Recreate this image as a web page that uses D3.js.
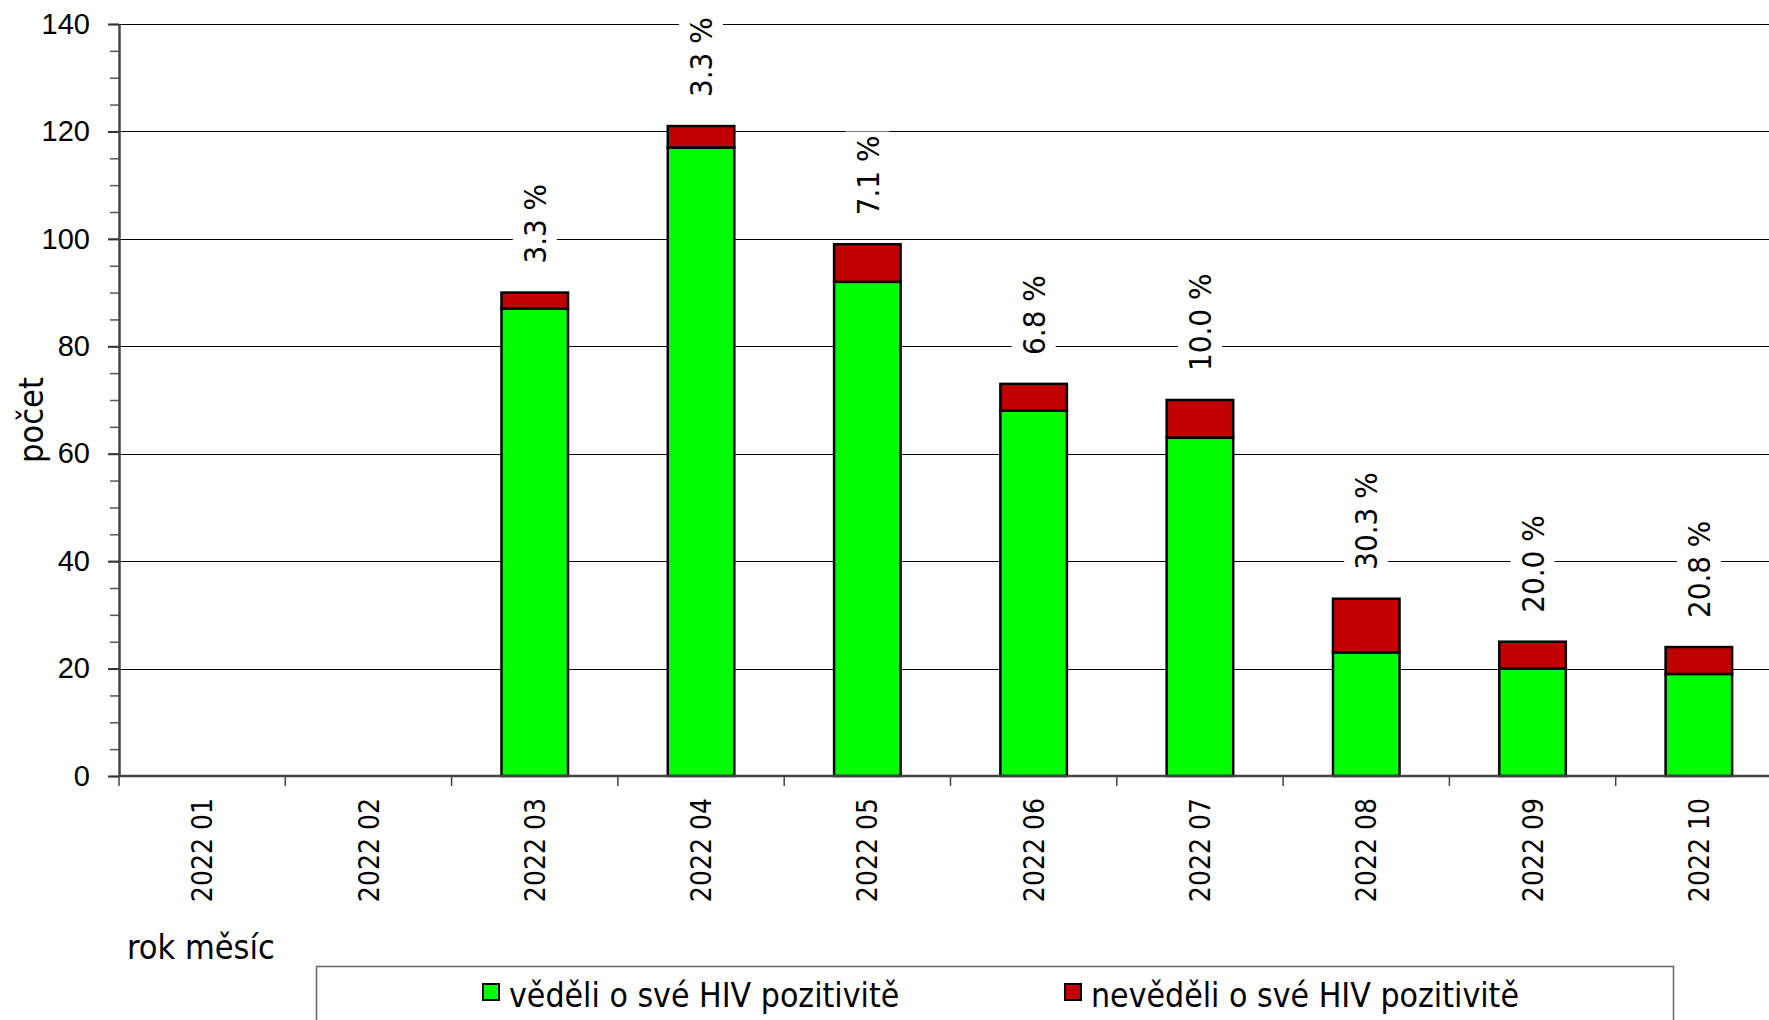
<!DOCTYPE html>
<html>
<head>
<meta charset="utf-8">
<script src="https://cdn.jsdelivr.net/npm/d3@7"></script>
<style>
  body { margin: 0; background: #fff; }
  svg { display: block; font-family: Tahoma, "DejaVu Sans Condensed", "DejaVu Sans", sans-serif; }
  .tick text { font-size: 29px; fill: #000; }
</style>
</head>
<body>
<div class="chart"></div>
<script>
// stacked bars: knew / did not know about their HIV positivity, by month

var months = ["2022 01", "2022 02", "2022 03", "2022 04", "2022 05",
              "2022 06", "2022 07", "2022 08", "2022 09", "2022 10"];
var knew = [0, 0, 87, 117, 92, 68, 63, 23, 20, 19];
var didNotKnow = [0, 0, 3, 4, 7, 5, 7, 10, 5, 5];
var yTicks = [0, 20, 40, 60, 80, 100, 120, 140];
var seriesNames = ["věděli o své HIV pozitivitě", "nevěděli o své HIV pozitivitě"];
var seriesColors = ["#00ff00", "#c00000"];

var svgWidth = 1769;
var svgHeight = 1020;

// plot area (right edge runs past the picture, like the original)
var margin = { top: 24, left: 119 };
var plotRight = 1782;
var plotBottom = 776;

var svg = d3.select(".chart")
    .append("svg")
    .attr("width", svgWidth)
    .attr("height", svgHeight);

var data = months.map(function(m, i) {
    return { month: m, knew: knew[i], didNotKnow: didNotKnow[i], total: knew[i] + didNotKnow[i] };
});

var x = d3.scaleBand()
    .domain(months)
    .range([margin.left, plotRight])
    .paddingInner(0.6)
    .paddingOuter(0.3);

var y = d3.scaleLinear()
    .domain([0, 140])
    .range([plotBottom, margin.top]);

// gridlines
svg.append("g")
    .selectAll("line")
    .data(yTicks.slice(1))
    .enter().append("line")
    .attr("x1", margin.left)
    .attr("x2", svgWidth)
    .attr("y1", function(d) { return Math.round(y(d)) + 0.5; })
    .attr("y2", function(d) { return Math.round(y(d)) + 0.5; })
    .attr("stroke", "#000")
    .attr("stroke-width", 1);

// stacked bars
var stack = d3.stack().keys(["knew", "didNotKnow"]);
var layers = stack(data);

svg.append("g")
    .selectAll("g")
    .data(layers)
    .enter().append("g")
    .attr("fill", function(d, i) { return seriesColors[i]; })
    .selectAll("rect")
    .data(function(d) { return d.filter(function(p) { return p[1] > p[0]; }); })
    .enter().append("rect")
    .attr("x", function(d) { return x(d.data.month); })
    .attr("y", function(d) { return y(d[1]); })
    .attr("width", x.bandwidth())
    .attr("height", function(d) { return y(d[0]) - y(d[1]); })
    .attr("stroke", "#000")
    .attr("stroke-width", 2.5);

// percentage labels above bars, white box behind them
var labelGroup = svg.append("g");
data.filter(function(d) { return d.total > 0; }).forEach(function(d) {
    var pct = (d.didNotKnow / d.total * 100).toFixed(1) + " %";
    var cx = x(d.month) + x.bandwidth() / 2;
    var g = labelGroup.append("g")
        .attr("transform", "translate(" + cx + "," + (y(d.total) - 29) + ") rotate(-90)");
    var bg = g.append("rect").attr("fill", "#fff");
    var t = g.append("text")
        .attr("x", 0)
        .attr("y", 0)
        .attr("dy", "0.36em")
        .attr("font-size", 31)
        .text(pct);
    var bb = t.node().getBBox();
    bg.attr("x", bb.x - 4)
        .attr("y", -22)
        .attr("width", bb.width + 8)
        .attr("height", 44);
});

// y axis with minor ticks
svg.append("g")
    .attr("transform", "translate(" + margin.left + ",0)")
    .call(d3.axisLeft(y).tickValues(d3.range(0, 141, 5)).tickSize(9).tickFormat(""))
    .call(function(g) {
        g.select(".domain").remove();
        g.selectAll("line").attr("stroke", "#555").attr("stroke-width", 1.5);
    });

svg.append("g")
    .attr("transform", "translate(" + margin.left + ",0)")
    .call(d3.axisLeft(y).tickValues(yTicks).tickSize(11).tickPadding(18).tickSizeOuter(0))
    .call(function(g) {
        g.select(".domain").attr("stroke", "#444").attr("stroke-width", 2.5);
        g.selectAll("line").attr("stroke", "#333").attr("stroke-width", 2);
    });

// x axis
var xAxis = svg.append("g")
    .attr("transform", "translate(0," + plotBottom + ")");
xAxis.append("line")
    .attr("x1", margin.left)
    .attr("x2", svgWidth)
    .attr("stroke", "#444")
    .attr("stroke-width", 2.5);
xAxis.selectAll(".sep")
    .data(months)
    .enter().append("line")
    .attr("class", "sep")
    .attr("x1", function(d) { return x(d) - x.step() * x.paddingOuter(); })
    .attr("x2", function(d) { return x(d) - x.step() * x.paddingOuter(); })
    .attr("y1", 0)
    .attr("y2", 10)
    .attr("stroke", "#444")
    .attr("stroke-width", 1.5);
xAxis.selectAll(".lbl")
    .data(months)
    .enter().append("text")
    .attr("class", "lbl")
    .attr("transform", function(d) {
        return "translate(" + (x(d) + x.bandwidth() / 2) + ",22) rotate(-90)";
    })
    .attr("text-anchor", "end")
    .attr("dy", "0.36em")
    .attr("font-size", 28)
    .text(function(d) { return d; });

// axis titles
svg.append("text")
    .attr("transform", "translate(43,420) rotate(-90)")
    .attr("text-anchor", "middle")
    .attr("font-size", 34)
    .text("počet");

svg.append("text")
    .attr("x", 127)
    .attr("y", 959)
    .attr("font-size", 34)
    .text("rok měsíc");

// legend
var legend = svg.append("g");
legend.append("rect")
    .attr("x", 316.5)
    .attr("y", 966.5)
    .attr("width", 1357)
    .attr("height", 80)
    .attr("fill", "#fff")
    .attr("stroke", "#666")
    .attr("stroke-width", 1.5);

var legendX = [483, 1065];
seriesNames.forEach(function(name, i) {
    legend.append("rect")
        .attr("x", legendX[i])
        .attr("y", 984)
        .attr("width", 16)
        .attr("height", 16)
        .attr("fill", seriesColors[i])
        .attr("stroke", "#000")
        .attr("stroke-width", 2);
    legend.append("text")
        .attr("x", legendX[i] + 26)
        .attr("y", 1007)
        .attr("font-size", 33.5)
        .text(name);
});
</script>
</body>
</html>
